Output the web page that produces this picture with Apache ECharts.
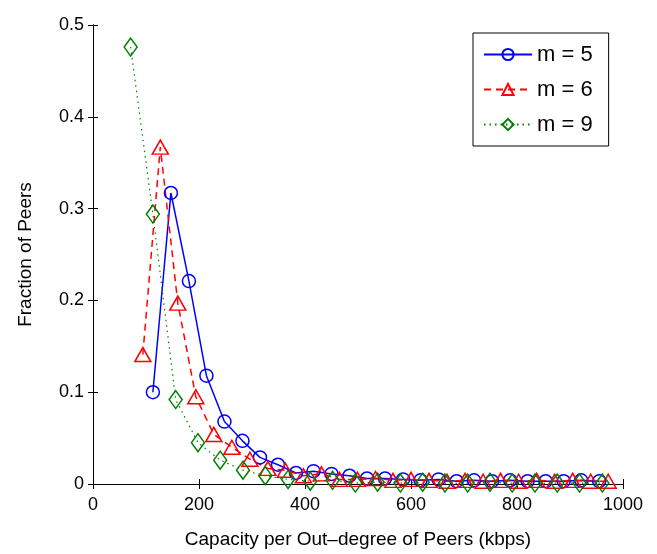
<!DOCTYPE html>
<html>
<head>
<meta charset="utf-8">
<script src="https://cdn.jsdelivr.net/npm/echarts@6/dist/echarts.min.js"></script>
<style>
html,body{margin:0;padding:0;background:#fff;}
#chart{width:657px;height:554px;}
</style>
</head>
<body>
<div id="chart"></div>
<script>
// ---- data ----
const seriesNames = ['m = 5', 'm = 6', 'm = 9'];
const xTicks = [0, 200, 400, 600, 800, 1000];
const yTicks = [0, 0.1, 0.2, 0.3, 0.4, 0.5];

const m5X = [113,147,181,214,248,282,315,349,383,416,450,484,517,551,585,618,652,686,719,753,787,820,854,888,921,955];
const m5Y = [0.100,0.317,0.221,0.118,0.068,0.047,0.029,0.021,0.012,0.014,0.011,0.009,0.006,0.006,0.005,0.004,0.005,0.003,0.004,0.003,0.004,0.003,0.003,0.003,0.004,0.003];

const m6X = [94,127,160,194,228,262,296,330,363,397,431,465,499,533,566,600,634,668,702,736,769,803,837,871,905,939,972];
const m6Y = [0.141,0.367,0.197,0.095,0.054,0.040,0.027,0.017,0.015,0.009,0.011,0.005,0.005,0.006,0.004,0.005,0.004,0.003,0.004,0.003,0.004,0.003,0.004,0.003,0.004,0.003,0.003];

const m9X = [71,113,156,198,240,283,325,368,410,452,495,537,580,622,664,707,749,791,834,876,918,961];
const m9Y = [0.476,0.294,0.092,0.045,0.026,0.015,0.009,0.005,0.003,0.004,0.001,0.002,0.001,0.002,0.001,0.001,0.002,0.001,0.001,0.001,0.001,0.001];

// ---- chart ----
const pairs = (xs, ys) => xs.map((x, i) => [x, ys[i]]);
const FONT = 'Liberation Sans, Arial, Helvetica, sans-serif';
const chart = echarts.init(document.getElementById('chart'), null, {renderer: 'canvas'});

const axisCommon = {
  axisLine: {show: true, lineStyle: {color: '#000', width: 1}},
  axisTick: {show: true, inside: true, length: 5, lineStyle: {color: '#000'}},
  splitLine: {show: false},
};

const option = {
  backgroundColor: '#fff',
  animation: false,
  grid: {left: 93, right: 34, top: 25, bottom: 67, containLabel: false},
  xAxis: [
    Object.assign({
      type: 'value', position: 'bottom', min: xTicks[0], max: xTicks[xTicks.length-1], interval: 200,
      axisLabel: {color: '#000', fontSize: 18, fontFamily: FONT, margin: 12, formatter: v => String(v)},
      name: 'Capacity per Out\u2013degree of Peers (kbps)', nameLocation: 'middle', nameGap: 46,
      nameTextStyle: {color: '#000', fontSize: 19, fontFamily: FONT}
    }, axisCommon),
    Object.assign({
      type: 'value', position: 'top', min: xTicks[0], max: xTicks[xTicks.length-1], interval: 200,
      axisLabel: {show: false}
    }, axisCommon)
  ],
  yAxis: [
    Object.assign({
      type: 'value', position: 'left', min: yTicks[0], max: yTicks[yTicks.length-1], interval: 0.1,
      axisLabel: {color: '#000', fontSize: 18, fontFamily: FONT, margin: 9, formatter: v => String(v)},
      name: 'Fraction of Peers', nameLocation: 'middle', nameGap: 58,
      nameTextStyle: {color: '#000', fontSize: 19, fontFamily: FONT}
    }, axisCommon),
    Object.assign({
      type: 'value', position: 'right', min: yTicks[0], max: yTicks[yTicks.length-1], interval: 0.1,
      axisLabel: {show: false}
    }, axisCommon)
  ],
  legend: {
    orient: 'vertical', left: 473, top: 33,
    padding: [10, 16, 10, 10],
    itemWidth: 48, itemHeight: 14, itemGap: 12,
    backgroundColor: '#fff', borderColor: '#000', borderWidth: 1,
    textStyle: {color: '#000', fontSize: 22, fontFamily: FONT, lineHeight: 23},
    data: seriesNames
  },
  series: [
    {
      name: seriesNames[0], type: 'line', data: pairs(m5X, m5Y),
      symbol: 'circle', symbolSize: 13,
      itemStyle: {color: 'rgba(255,255,255,0)', borderColor: '#0000ff', borderWidth: 1.5},
      lineStyle: {color: '#0000ff', width: 1.5, type: 'solid'}
    },
    {
      name: seriesNames[1], type: 'line', data: pairs(m6X, m6Y),
      symbol: 'triangle', symbolSize: [16, 14],
      itemStyle: {color: 'rgba(255,255,255,0)', borderColor: '#ff0000', borderWidth: 1.5},
      lineStyle: {color: '#ff0000', width: 1.5, type: [7, 5]}
    },
    {
      name: seriesNames[2], type: 'line', data: pairs(m9X, m9Y),
      symbol: 'diamond', symbolSize: [13, 18],
      itemStyle: {color: 'rgba(255,255,255,0)', borderColor: '#008000', borderWidth: 1.5},
      lineStyle: {color: '#008000', width: 1.2, type: [1.5, 4]}
    }
  ]
};
chart.setOption(option);
</script>
</body>
</html>
